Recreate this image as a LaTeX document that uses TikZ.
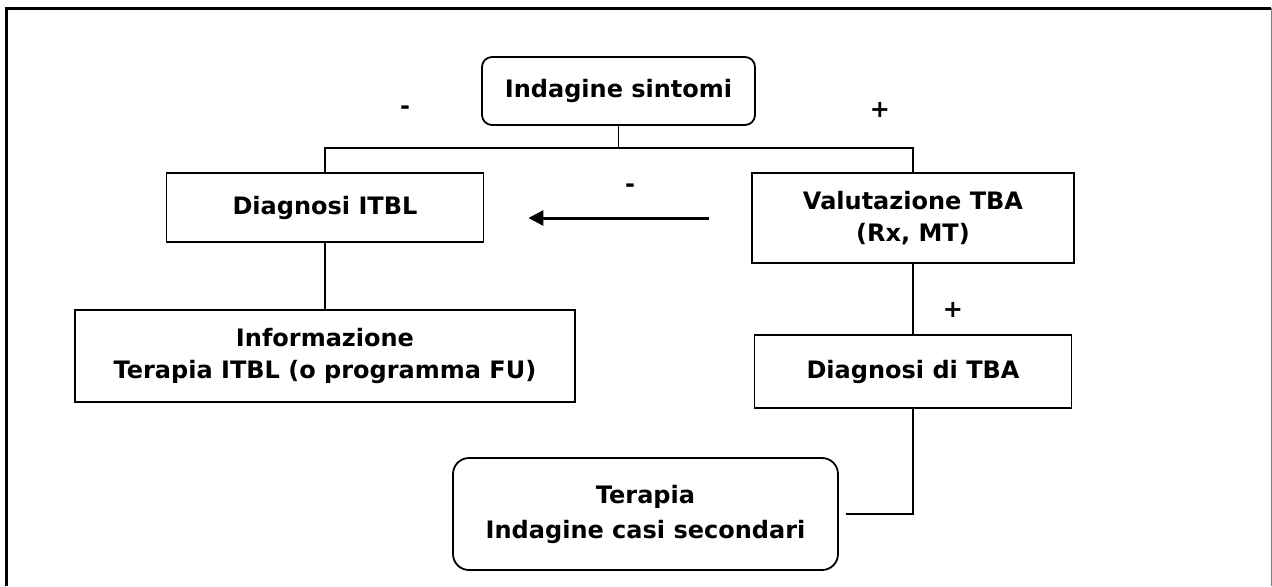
\documentclass[tikz,border=0pt]{standalone}
\usepackage{fontspec}
\setmainfont{DejaVu Sans}
\usetikzlibrary{arrows.meta}

\begin{document}
\begin{tikzpicture}[x = 0.5pt, y = -0.5pt,
    every node/.style = {font = \fontsize{12}{16}\selectfont\bfseries, align = center},
    box/.style = {draw, line width = 0.9pt, inner sep = 0pt},
    rbox/.style = {box, rounded corners = 5pt},
    link/.style = {line width = 0.9pt},
    arr/.style = {line width = 1.5pt, -{Triangle[length = 7.5pt, width = 7.5pt]}}]
        \useasboundingbox (0,0) rectangle (1272,586) ; %
        \draw[line width = 1.5pt] (6,586) -- (6,8) -- (1271,8) ; %
        \draw[gray, line width = 0.5pt] (1271,8) -- (1271,586) ; %
        %
        \node[rbox, minimum width = 136.5pt, minimum height = 34pt] (sintomi) at (618.5,91) {Indagine sintomi} ; %
        \node[box, minimum width = 158.5pt, minimum height = 34.5pt] (diag_itbl) at (325,207.5) {Diagnosi ITBL} ; %
        \node[box, minimum width = 161pt, minimum height = 45pt] (val_tba) at (913,218) {Valutazione TBA\\(Rx, MT)} ; %
        \node[box, minimum width = 250pt, minimum height = 46pt] (info_itbl) at (325,356) {Informazione\\Terapia ITBL (o programma FU)} ; %
        \node[box, minimum width = 158.5pt, minimum height = 36.5pt] (diag_tba) at (913,371.5) {Diagnosi di TBA} ; %
        \node[rbox, rounded corners = 8pt, minimum width = 192.5pt, minimum height = 56pt,
              font = \fontsize{12}{17.5}\selectfont\bfseries] (ter_tba) at (645.5,514) {Terapia\\Indagine casi secondari} ; %
        %
        \node (neg_l) at (405,110) {-} ; %
        \node (pos_r) at (880,110) {+} ; %
        \node (neg_arr) at (630,188) {-} ; %
        \node (pos_tba) at (953,310) {+} ; %
        %
        \coordinate (split) at (618.5,148) ; %
        \draw[link] (sintomi) -- (split) ; %
        \draw[link] (diag_itbl) |- (split) -| (val_tba) ; %
        \draw[link] (diag_itbl) -- (info_itbl) ; %
        \draw[link] (val_tba) -- (diag_tba) ; %
        \draw[link, shorten >= 3.5pt] (diag_tba) |- (ter_tba) ; %
        \draw[arr, shorten <= 21pt, shorten >= 22pt] (val_tba.west) -- (val_tba.west -| diag_itbl.east) ; %
\end{tikzpicture}
\end{document}
